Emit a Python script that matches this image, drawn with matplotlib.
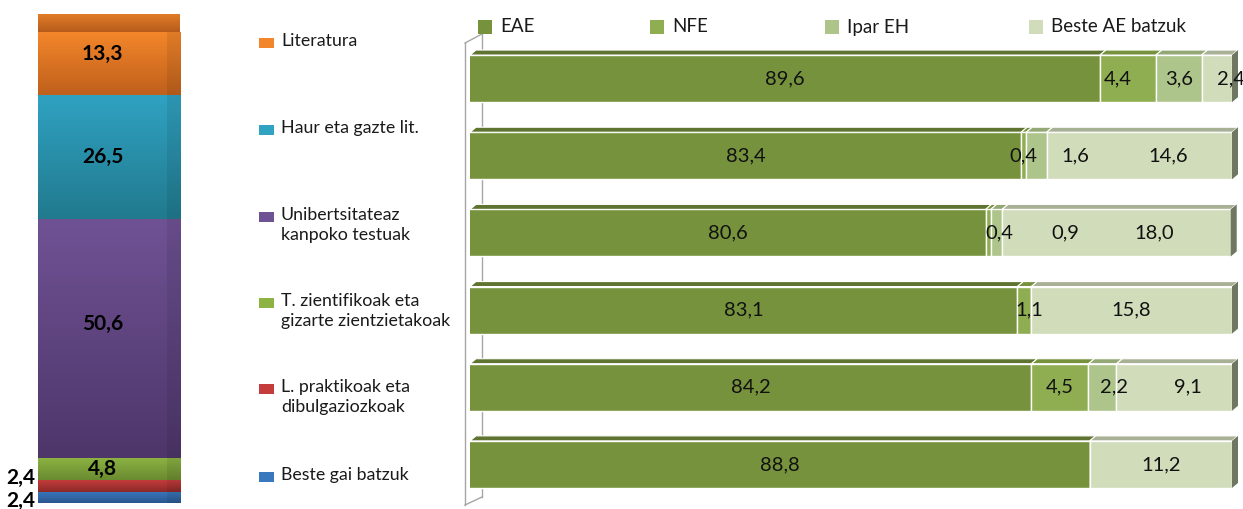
import numpy as np
import matplotlib
matplotlib.use("Agg")
import matplotlib.pyplot as plt
from matplotlib.patches import Rectangle, Polygon
from matplotlib.lines import Line2D
from matplotlib.colors import to_rgb

plt.rcParams['font.family'] = ['Lato', 'DejaVu Sans']

# left column: gai-arloak (bottom -> top)
topics = ["Beste gai batzuk", "L. praktikoak eta\ndibulgaziozkoak",
          "T. zientifikoak eta\ngizarte zientzietakoak",
          "Unibertsitateaz\nkanpoko testuak", "Haur eta gazte lit.", "Literatura"]
topic_share = [2.4, 2.4, 4.8, 50.6, 26.5, 13.3]

# right bars: rows top -> bottom (Literatura ... Beste gai batzuk)
series = ["EAE", "NFE", "Ipar EH", "Beste AE batzuk"]
eae = [89.6, 83.4, 80.6, 83.1, 84.2, 88.8]
nfe = [4.4, 0.4, 0.4, 1.1, 4.5, 0.0]
ipar = [3.6, 1.6, 0.9, 0.0, 2.2, 0.0]
beste = [2.4, 14.6, 18.0, 15.8, 9.1, 11.2]

# colours
topic_top = ["#3a78bd", "#c43c3c", "#8db443", "#6f5294", "#30a2c2", "#f3862a"]
topic_bot = ["#2a5690", "#8c2828", "#6a8a30", "#4e366a", "#217a8e", "#bf601c"]
ser_front = ["#77923c", "#8fae52", "#adc48a", "#d0dcba"]
ser_top = ["#5e7430", "#76923c", "#93a874", "#a8b196"]
side_col = "#6e7860"

W, H = 1243, 509


def fig_rect(l, t, r, b):
    return [l / W, 1 - b / H, (r - l) / W, (b - t) / H]


def px(x, y):
    return x / W, 1 - y / H


def shade(c, f):
    return tuple(np.array(to_rgb(c)) * f)


def grad_fill(ax, patch, c_top, c_bot):
    x0, y0 = patch.get_xy()
    w, h = patch.get_width(), patch.get_height()
    t = np.linspace(0, 1, 64)[:, None]
    img = np.array(to_rgb(c_top)) * (1 - t) + np.array(to_rgb(c_bot)) * t
    im = ax.imshow(img[:, None, :], extent=(x0, x0 + w, y0, y0 + h), origin='upper',
                   aspect='auto', zorder=patch.get_zorder() + 0.1, interpolation='bilinear')
    im.set_clip_path(patch)


fig = plt.figure(figsize=(W / 100, H / 100), dpi=100)

# ---------- left stacked column ----------
ax_col = fig.add_axes(fig_rect(38, 14, 180, 503))
front_w = 0.908
bottom = 0
col_dy = {5: 1.9, 3: 3.2, 1: 1.7, 0: -0.8}
for i, v in enumerate(topic_share):
    b = ax_col.bar(0, v, bottom=bottom, width=front_w, align='edge',
                   color=topic_bot[i], linewidth=0)[0]
    grad_fill(ax_col, b, topic_top[i], topic_bot[i])
    s = ax_col.bar(front_w, v, bottom=bottom, width=1 - front_w, align='edge',
                   color=topic_bot[i], linewidth=0)[0]
    grad_fill(ax_col, s, shade(topic_top[i], 0.92), shade(topic_bot[i], 0.92))
    lab = f"{v:.1f}".replace(".", ",")
    if v < 3:
        # small slices: label outside, on the left
        ax_col.text(-0.02, bottom + v / 2 + col_dy.get(i, 0), lab, ha='right',
                    va='center', fontsize=15, fontweight='bold', clip_on=False)
    else:
        ax_col.text(front_w / 2, bottom + v / 2 + col_dy.get(i, 0), lab, ha='center',
                    va='center', fontsize=15, fontweight='bold', zorder=5)
    bottom += v
# top face of the column
tf = ax_col.bar(0, 3.8, bottom=bottom, width=1, align='edge', color=topic_bot[-1], linewidth=0)[0]
grad_fill(ax_col, tf, shade(topic_top[-1], 0.93), shade(topic_bot[-1], 0.95))
ax_col.set_xlim(0, 1)
ax_col.set_ylim(0, 103.8)
ax_col.axis('off')

# left legend
leg_y = [477, 389, 303, 217, 130, 43]
for i, name in enumerate(topics):
    y = leg_y[i]
    fig.add_artist(Rectangle(px(259, y + 5), 15 / W, 10 / H, transform=fig.transFigure,
                             color=topic_top[i], linewidth=0))
    fig.text(*px(281, y - 10), name, ha='left', va='top', fontsize=12.8,
             linespacing=1.3, color='#1a1a1a')

# ---------- right stacked bars ----------
ax = fig.add_axes(fig_rect(470, 40, 1232, 503))
ax.set_facecolor('none')
xmin, xmax = 40, 100
ax.set_xlim(xmin, xmax)
ax.set_ylim(5.5, -0.5)
ax.axis('off')

rows = np.arange(len(eae))
h = 0.61
dx = 6 / (762 / (xmax - xmin))
dy = 5 / 77.2
data = [eae, nfe, ipar, beste]
label_dx = {(0, 1): -0.8, (0, 3): 1.1, (1, 2): 3.1, (1, 3): 2.3, (2, 1): 0.9,
            (2, 2): 5.4, (2, 3): 3.0, (3, 1): 0.4, (4, 2): 0.9, (4, 3): 1.1}

left = np.zeros(len(eae))
for k, vals in enumerate(data):
    vals = np.array(vals)
    ax.barh(rows, vals, left=left, height=h, color=ser_front[k], edgecolor='white',
            linewidth=1, zorder=2)
    for r in rows:
        if vals[r] <= 0:
            continue
        l0 = max(left[r], xmin)
        r0 = left[r] + vals[r]
        yt = r - h / 2
        ax.add_patch(Polygon([(l0, yt), (r0, yt), (r0 + dx, yt - dy), (l0 + dx, yt - dy)],
                             closed=True, facecolor=ser_top[k], edgecolor='white',
                             linewidth=0.8, zorder=2, clip_on=False))
        cx = (l0 + r0) / 2 + label_dx.get((r, k), 0)
        ax.text(cx, r, f"{vals[r]:.1f}".replace(".", ","), ha='center', va='center',
                fontsize=14.5, color='#111111', zorder=6, clip_on=False)
    left += vals

# right side faces
for r in rows:
    yt, yb = r - h / 2, r + h / 2
    ax.add_patch(Polygon([(left[r], yt), (left[r] + dx, yt - dy), (left[r] + dx, yb - dy),
                          (left[r], yb)], closed=True, facecolor=side_col,
                         edgecolor='none', zorder=2, clip_on=False))

# 3D wall on the left
wall = dict(color='#a6a6a6', linewidth=1, transform=ax.transAxes, clip_on=False, zorder=0.5)
fx, bx = (465 - 470) / 762, (482 - 470) / 762
ax.add_line(Line2D([fx, fx], [(503 - 505) / 463, (503 - 43) / 463], **wall))
ax.add_line(Line2D([bx, bx], [(503 - 497) / 463, (503 - 34) / 463], **wall))
ax.add_line(Line2D([fx, bx], [(503 - 43) / 463, (503 - 34) / 463], **wall))
ax.add_line(Line2D([fx, bx], [(503 - 505) / 463, (503 - 497) / 463], **wall))

# top legend
leg_x = [478, 650, 825, 1029]
for k, name in enumerate(series):
    fig.add_artist(Rectangle(px(leg_x[k], 34), 14 / W, 14 / H, transform=fig.transFigure,
                             color=ser_front[k], linewidth=0))
    fig.text(*px(leg_x[k] + 22, 27), name, ha='left', va='center', fontsize=13.5,
             color='#1a1a1a')

fig.savefig("out.png", dpi=100)
